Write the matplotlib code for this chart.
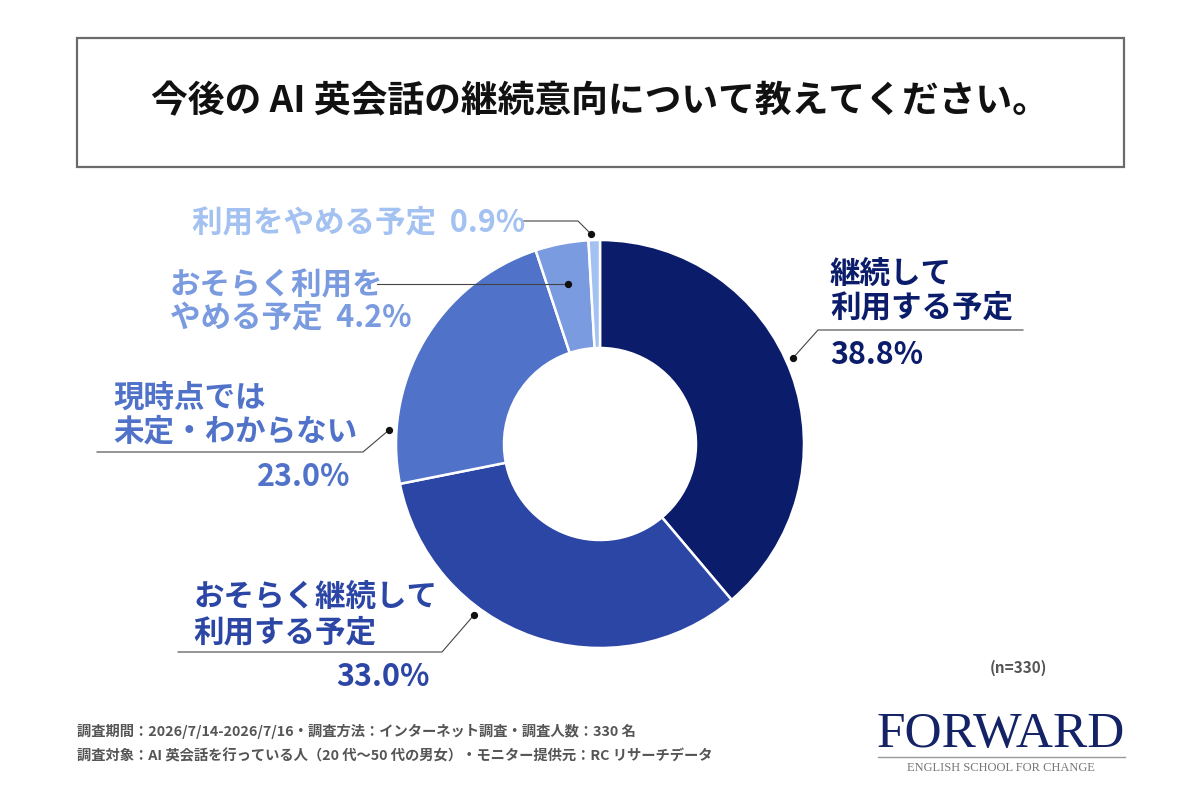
import matplotlib.pyplot as plt
from matplotlib.patches import Rectangle

plt.rcParams['font.family'] = ['Noto Sans CJK JP', 'DejaVu Sans']

# data
labels = ['継続して\n利用する予定', 'おそらく継続して\n利用する予定', '現時点では\n未定・わからない',
          'おそらく利用を\nやめる予定', '利用をやめる予定']
values = [38.8, 33.0, 23.0, 4.2, 0.9]
colors = ['#0b1c6b', '#2c46a6', '#5073c9', '#7a9be0', '#a3c1f1']
title = '今後の AI 英会話の継続意向について教えてください。'
note1 = '調査期間：2026/7/14-2026/7/16・調査方法：インターネット調査・調査人数：330 名'
note2 = '調査対象：AI 英会話を行っている人（20 代～50 代の男女）・モニター提供元：RC リサーチデータ'
n_label = '(n=330)'

W, H = 1200, 800
fig = plt.figure(figsize=(12, 8), dpi=100)
ax = fig.add_axes([0, 0, 1, 1])


def Y(y):
    # pixel row from the top -> data y
    return H - y


# title box
ax.add_patch(Rectangle((77, Y(167)), 1047, 129, fill=False, edgecolor='#6b6b6b', lw=1.6))
ax.text(600, Y(102), title, ha='center', va='center', fontsize=26.5, fontweight='bold', color='#111111')

# donut
ax.pie(values, colors=colors, startangle=90, counterclock=False, center=(600, Y(444)), radius=204,
       wedgeprops=dict(width=108, edgecolor='white', linewidth=1.8), frame=True)
ax.set_xlim(0, W)
ax.set_ylim(0, H)
ax.set_aspect('equal')
ax.axis('off')

line_c = '#444444'
fs = 22

# 継続して
ax.text(830, Y(275), '継続して', ha='left', va='center', fontsize=fs, fontweight='bold', color=colors[0])
ax.text(830, Y(307), '利用する予定', ha='left', va='center', fontsize=fs, fontweight='bold', color=colors[0])
ax.plot([793, 818, 1023], [Y(358), Y(330), Y(330)], color=line_c, lw=0.8)
ax.text(830, Y(355), f'{values[0]:.1f}%', ha='left', va='center', fontsize=fs, fontweight='bold', color=colors[0])

# おそらく継続して
ax.text(193, Y(598), 'おそらく継続して', ha='left', va='center', fontsize=fs, fontweight='bold', color=colors[1])
ax.text(193, Y(632), '利用する予定', ha='left', va='center', fontsize=fs, fontweight='bold', color=colors[1])
ax.plot([474, 442, 178], [Y(615), Y(652), Y(652)], color=line_c, lw=0.8)
ax.text(430, Y(677), f'{values[1]:.1f}%', ha='right', va='center', fontsize=fs, fontweight='bold', color=colors[1])

# 現時点では
ax.text(113, Y(398), '現時点では', ha='left', va='center', fontsize=fs, fontweight='bold', color=colors[2])
ax.text(113, Y(432), '未定・わからない', ha='left', va='center', fontsize=fs, fontweight='bold', color=colors[2])
ax.plot([389, 363, 97], [Y(430), Y(452), Y(452)], color=line_c, lw=0.8)
ax.text(350, Y(477), f'{values[2]:.1f}%', ha='right', va='center', fontsize=fs, fontweight='bold', color=colors[2])

# おそらく利用をやめる予定
ax.text(170, Y(285), 'おそらく利用を', ha='left', va='center', fontsize=fs, fontweight='bold', color=colors[3])
ax.text(170, Y(318), f'やめる予定  {values[3]:.1f}%', ha='left', va='center', fontsize=fs, fontweight='bold',
        color=colors[3])
ax.plot([377, 568], [Y(284), Y(284)], color=line_c, lw=0.8)

# 利用をやめる予定
ax.text(192, Y(222), f'利用をやめる予定  {values[4]:.1f}%', ha='left', va='center', fontsize=fs, fontweight='bold',
        color=colors[4])
ax.plot([523, 578, 591], [Y(221), Y(221), Y(234)], color=line_c, lw=0.8)

# dots
ax.scatter([793, 474, 389, 568, 591], [Y(358), Y(615), Y(430), Y(284), Y(234)], s=18, color='#111111', zorder=5)

# n
ax.text(1047, Y(668), n_label, ha='right', va='center', fontsize=11, fontweight='bold', color='#555555')

# notes
ax.text(77, Y(731), note1, ha='left', va='center', fontsize=10.3, fontweight='bold', color='#555555')
ax.text(77, Y(756), note2, ha='left', va='center', fontsize=10.3, fontweight='bold', color='#555555')

# logo
ax.text(1001, Y(735), 'FORWARD', ha='center', va='center', fontsize=37, family='Liberation Serif',
        color='#142266')
ax.plot([878, 1125], [Y(757), Y(757)], color='#999999', lw=1)
ax.text(1001, Y(768), 'ENGLISH SCHOOL FOR CHANGE', ha='center', va='center', fontsize=9,
        family='Liberation Serif', color='#777777')

fig.savefig('out.png', dpi=100, facecolor='white')
